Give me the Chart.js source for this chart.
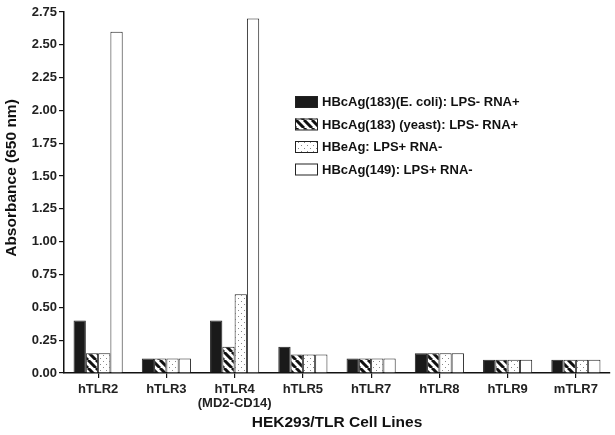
<!DOCTYPE html>
<html>
<head>
<meta charset="utf-8">
<script src="https://cdn.jsdelivr.net/npm/chart.js@4/dist/chart.umd.min.js"></script>
<style>
  html, body { margin: 0; padding: 0; background: #fff; }
  #wrap { width: 615px; height: 435px; }
</style>
</head>
<body>
<div id="wrap"><canvas id="tlrChart" width="615" height="435"></canvas></div>
<script>
const cellLines = ['hTLR2', 'hTLR3', ['hTLR4', '(MD2-CD14)'], 'hTLR5', 'hTLR7', 'hTLR8', 'hTLR9', 'mTLR7'];
const seriesNames = [
    'HBcAg(183)(E. coli): LPS- RNA+',
    'HBcAg(183) (yeast): LPS- RNA+',
    'HBeAg: LPS+ RNA-',
    'HBcAg(149): LPS+ RNA-'
];
const ecoliValues = [0.40, 0.11, 0.40, 0.20, 0.11, 0.15, 0.10, 0.10];
const yeastValues = [0.15, 0.11, 0.20, 0.14, 0.11, 0.15, 0.10, 0.10];
const hbeagValues = [0.15, 0.11, 0.60, 0.14, 0.11, 0.15, 0.10, 0.10];
const hbc149Values = [2.60, 0.11, 2.70, 0.14, 0.11, 0.15, 0.10, 0.10];
const yTitle = 'Absorbance (650 nm)';
const xTitle = 'HEK293/TLR Cell Lines';

const FONT = "'Liberation Sans', Arial, sans-serif";

// hatch pattern: thick black diagonal stripes
function makeHatch() {
    const c = document.createElement('canvas');
    c.width = 8; c.height = 8;
    const g = c.getContext('2d');
    g.fillStyle = '#fff';
    g.fillRect(0, 0, 8, 8);
    g.strokeStyle = '#111';
    g.lineWidth = 3;
    g.beginPath();
    for (let k = -8; k <= 16; k += 8) {
        g.moveTo(k, 0);
        g.lineTo(k + 8, 8);
    }
    g.stroke();
    return g.createPattern(c, 'repeat');
}

// dotted pattern: white with sparse grey dots
function makeDots() {
    const c = document.createElement('canvas');
    c.width = 6; c.height = 6;
    const g = c.getContext('2d');
    g.fillStyle = '#fff';
    g.fillRect(0, 0, 6, 6);
    g.fillStyle = '#888';
    g.fillRect(1, 1, 1, 1);
    g.fillRect(4, 4, 1, 1);
    return g.createPattern(c, 'repeat');
}

const fills = ['#1a1a1a', makeHatch(), makeDots(), '#ffffff'];

// legend inside the plot area + y title placed like the original
const extras = {
    id: 'extras',
    afterDraw(chart) {
        const ctx = chart.ctx;
        ctx.save();
        ctx.font = 'bold 13px ' + FONT;
        ctx.textBaseline = 'middle';
        chart.data.datasets.forEach((ds, i) => {
            const y = 102 + i * 22.5;
            ctx.fillStyle = ds.backgroundColor;
            ctx.fillRect(295, y - 6, 22, 11);
            ctx.strokeStyle = '#222';
            ctx.lineWidth = 1;
            ctx.strokeRect(295.5, y - 5.5, 22, 11);
            ctx.fillStyle = '#111';
            ctx.fillText(ds.label, 322, y + 0.5);
        });
        ctx.translate(12, 178);
        ctx.rotate(-Math.PI / 2);
        ctx.textAlign = 'center';
        ctx.font = 'bold 15.5px ' + FONT;
        ctx.fillText(yTitle, 0, 0);
        ctx.restore();
    }
};

const ctx = document.getElementById('tlrChart').getContext('2d');
new Chart(ctx, {
    type: 'bar',
    data: {
        labels: cellLines,
        datasets: [ecoliValues, yeastValues, hbeagValues, hbc149Values].map((vals, i) => ({
            label: seriesNames[i],
            data: vals,
            backgroundColor: fills[i],
            borderColor: '#222',
            borderWidth: 1,
            borderSkipped: 'bottom',
            categoryPercentage: 0.72,
            barPercentage: 1.0
        }))
    },
    options: {
        responsive: false,
        animation: false,
        layout: { padding: { left: 0, right: 5, top: 12, bottom: 0 } },
        plugins: {
            legend: { display: false },
            tooltip: { enabled: false }
        },
        scales: {
            x: {
                offset: true,
                grid: { display: true, offset: false, drawOnChartArea: false, drawTicks: true, tickLength: 5, color: '#111', lineWidth: 1.2 },
                border: { display: true, color: '#111', width: 1.5 },
                ticks: { color: '#222', font: { family: FONT, size: 13, weight: 'bold', lineHeight: 1.05 }, padding: 5, maxRotation: 0, autoSkip: false },
                title: { display: true, text: xTitle, color: '#111', font: { family: FONT, size: 15.5, weight: 'bold' }, padding: { top: 0, bottom: 3 } },
                afterFit(scale) { scale.height = 62; }
            },
            y: {
                min: 0,
                max: 2.75,
                grid: { display: true, drawOnChartArea: false, drawTicks: true, tickLength: 5, color: '#111', lineWidth: 1.2 },
                border: { display: true, color: '#111', width: 1.5 },
                ticks: {
                    stepSize: 0.25,
                    color: '#222',
                    font: { family: FONT, size: 13, weight: 'bold' },
                    padding: 2,
                    callback: v => v.toFixed(2)
                },
                afterFit(scale) { scale.width = 64; }
            }
        }
    },
    plugins: [extras]
});
</script>
</body>
</html>
